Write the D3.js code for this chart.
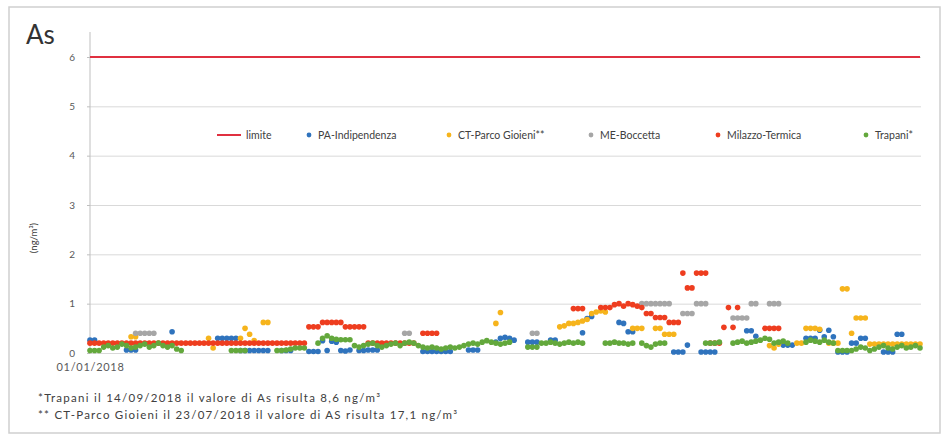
<!DOCTYPE html>
<html>
<head>
<meta charset="utf-8">
<script src="https://cdn.jsdelivr.net/npm/d3@7"></script>
<style>
  body { margin: 0; background: #fff; }
  svg { display: block; }
  text { font-family: Lato, "Open Sans", "DejaVu Sans", sans-serif; }
</style>
</head>
<body>
<svg id="chart" width="948" height="440"></svg>
<script>
// Arsenic concentrations (ng/m³), one sample every two days from 01/01/2018.
const _ = null;
const startDate = new Date(2018, 0, 1);
const endDate = new Date(2018, 11, 31);
const stepDays = 2;
const yTicks = [0, 1, 2, 3, 4, 5, 6];
const xTickLabels = ["01/01/2018"];
const limitValue = 6;
const limitName = "limite";
const seriesNames = ["PA-Indipendenza", "CT-Parco Gioieni**", "ME-Boccetta", "Milazzo-Termica", "Trapani*"];
const footnotes = [
  "*Trapani il 14/09/2018 il valore di As risulta 8,6 ng/m³",
  "** CT-Parco Gioieni il 23/07/2018 il valore di AS risulta 17,1 ng/m³"
];

const paIndipendenza = [
  0.26,0.26,_,_,_,_,_,_,0.06,0.06,
  0.06,_,_,_,_,_,_,_,0.43,_,
  _,_,_,_,_,_,_,_,0.3,0.3,
  0.3,0.3,0.3,0.05,0.05,0.05,0.05,0.05,0.05,0.05,
  _,_,0.05,0.05,0.05,_,_,_,0.03,0.03,
  0.03,0.25,0.05,0.24,0.22,0.05,0.04,0.06,_,0.05,
  0.05,0.06,0.06,0.06,_,_,_,_,_,_,
  _,_,_,0.03,0.03,0.03,0.03,0.03,0.03,0.03,
  _,_,_,0.06,0.06,0.06,_,_,_,0.22,
  0.3,0.32,0.3,0.26,_,_,0.22,0.22,0.22,_,
  _,0.26,0.26,_,_,_,_,_,0.41,0.7,
  0.74,_,_,_,_,_,0.62,0.6,0.43,0.43,
  _,_,_,_,_,_,_,_,0.02,0.02,
  0.02,0.16,_,_,0.02,0.02,0.02,0.02,_,_,
  _,_,_,_,0.45,0.45,0.34,_,_,_,
  _,_,0.16,0.16,0.16,_,_,0.3,0.3,0.3,
  0.46,0.33,0.46,0.33,0.02,0.02,0.02,0.2,0.2,0.3,
  0.3,_,_,_,0.02,0.02,0.02,0.38,0.38,_,
  _,_,_
];

const ctParcoGioieni = [
  _,_,_,_,_,_,_,_,_,0.33,
  0.33,_,_,_,_,_,_,_,_,_,
  _,_,_,_,_,_,0.3,0.1,_,_,
  _,_,_,0.3,0.5,0.38,0.25,_,0.62,0.62,
  _,_,_,_,_,_,_,_,_,_,
  _,_,_,_,_,_,_,_,_,_,
  _,_,_,_,_,_,_,_,_,_,
  _,_,_,_,_,_,_,_,_,_,
  _,_,_,_,_,_,_,_,_,0.6,
  0.82,_,_,_,_,_,_,_,_,_,
  _,17.1,_,0.53,0.55,0.6,0.6,0.62,0.65,0.68,
  0.8,0.83,0.85,0.83,_,_,_,_,_,0.5,
  0.5,0.5,_,_,0.5,0.5,0.38,0.38,0.38,_,
  _,_,_,_,_,_,_,_,_,_,
  _,_,_,_,_,_,_,_,_,0.15,
  0.1,0.18,_,_,_,0.2,0.2,0.5,0.5,0.5,
  0.48,_,0.2,0.2,0.2,1.3,1.3,0.4,0.71,0.71,
  0.71,0.18,0.18,0.18,0.18,0.18,0.18,0.18,0.18,0.18,
  0.18,0.18,0.18
];

const meBoccetta = [
  _,_,_,_,_,_,_,_,_,_,
  0.4,0.4,0.4,0.4,0.4,_,_,_,_,_,
  _,_,_,_,_,_,_,_,_,_,
  _,_,_,_,_,_,_,_,_,_,
  _,_,_,_,_,_,_,_,_,_,
  _,_,_,_,_,_,_,_,_,_,
  _,_,_,_,_,_,_,_,_,0.4,
  0.4,_,_,_,_,_,_,_,_,_,
  _,_,_,_,_,_,_,_,_,_,
  _,_,_,_,_,_,_,0.4,0.4,_,
  _,_,_,_,_,_,_,_,_,_,
  _,_,_,_,_,_,_,_,_,_,
  _,1.0,1.0,1.0,1.0,1.0,1.0,1.0,_,_,
  0.8,0.8,0.8,1.0,1.0,1.0,_,_,_,_,
  _,0.71,0.71,0.71,0.71,1.0,1.0,_,_,1.0,
  1.0,1.0,_,_,_,_,_,_,_,_,
  _,_,_,_,_,_,_,_,_,_,
  _,_,_,_,_,_,_,_,_,_,
  _,_,_
];

const milazzoTermica = [
  0.2,0.2,0.2,0.2,0.2,0.2,0.2,0.2,0.2,0.2,
  0.2,0.2,0.2,0.2,0.2,0.2,0.2,0.2,0.2,0.2,
  0.2,0.2,0.2,0.2,0.2,0.2,0.2,0.2,0.2,0.2,
  0.2,0.2,0.2,0.2,0.2,0.2,0.2,0.2,0.2,0.2,
  0.2,0.2,0.2,0.2,0.2,0.2,0.2,0.2,0.53,0.53,
  0.53,0.62,0.62,0.62,0.62,0.62,0.53,0.53,0.53,0.53,
  0.53,0.2,0.2,0.2,0.2,0.2,0.2,0.2,0.2,0.2,
  0.2,0.2,_,0.4,0.4,0.4,0.4,_,_,_,
  _,_,_,_,_,_,_,_,_,_,
  _,_,_,_,_,_,_,_,_,_,
  _,_,_,_,_,_,0.9,0.9,0.9,_,
  _,_,0.92,0.92,0.92,0.98,1.0,0.95,1.0,0.98,
  0.95,0.92,0.8,0.8,0.72,0.72,0.72,0.62,0.62,0.62,
  1.62,1.32,1.32,1.62,1.62,1.62,0.2,0.2,0.2,0.52,
  0.92,0.52,0.92,_,_,_,_,_,0.5,0.5,
  0.5,0.5,_,_,_,_,_,_,_,_,
  _,_,_,_,_,_,_,_,_,_,
  _,_,_,_,_,_,_,_,_,_,
  _,_,_
];

const trapani = [
  0.05,0.05,0.05,0.12,0.15,0.1,0.12,0.18,0.15,0.1,
  0.12,0.15,0.18,0.12,0.15,0.2,0.15,0.12,0.15,0.08,
  0.05,_,_,_,_,_,_,_,_,_,
  _,0.05,0.05,0.05,0.05,_,_,_,_,_,
  _,0.05,0.05,0.06,0.08,0.1,0.1,0.1,_,_,
  0.2,0.3,0.35,0.3,0.28,0.27,0.27,0.27,0.15,0.12,
  0.15,0.18,0.2,0.15,0.12,0.15,0.18,0.2,0.15,0.2,
  0.22,0.2,0.15,0.12,0.1,0.12,0.1,0.08,0.1,0.12,
  0.1,0.12,0.15,0.18,0.2,0.18,0.22,0.25,0.22,0.2,
  0.18,0.2,0.22,_,_,_,0.12,0.12,0.12,0.2,
  0.2,0.22,0.2,0.18,0.2,0.22,0.2,0.22,0.2,_,
  _,_,_,0.2,0.2,0.22,0.2,0.2,0.18,0.2,
  _,0.2,0.15,0.12,0.18,0.2,0.2,_,8.6,_,
  _,_,_,_,_,0.2,0.2,0.2,0.22,_,
  _,0.2,0.22,0.24,0.2,0.22,0.24,0.26,0.3,0.28,
  0.2,0.22,0.24,0.2,_,_,_,0.22,0.26,0.24,
  0.22,0.26,0.22,0.2,0.05,0.05,0.05,0.05,0.08,0.12,
  0.1,0.05,0.08,0.12,0.15,0.1,0.08,0.12,0.15,0.1,
  0.12,0.15,0.1
];

const seriesValues = [paIndipendenza, ctParcoGioieni, meBoccetta, milazzoTermica, trapani];
const seriesColors = ["#2f73bd", "#f6b41c", "#a6a6a6", "#ee3d1f", "#63a83c"];
const limitColor = "#e03040";

const svg = d3.select("#chart");
const plot = { left: 90, right: 921, top: 57, bottom: 353 };

// outer frame
svg.append("rect")
  .attr("x", 9).attr("y", 7).attr("width", 931).attr("height", 426)
  .attr("fill", "#fff").attr("stroke", "#cfcfcf").attr("stroke-width", 1.5);

const x = d3.scaleTime().domain([startDate, endDate]).range([plot.left, plot.right - 1]);
const y = d3.scaleLinear().domain([0, 6]).range([plot.bottom, plot.top]);

// horizontal gridlines
svg.append("g")
  .attr("transform", `translate(${plot.left},0)`)
  .call(d3.axisLeft(y).tickValues(yTicks).tickSize(-(plot.right - plot.left)).tickFormat(""))
  .call(g => g.select(".domain").remove())
  .call(g => g.selectAll(".tick line").attr("stroke", "#d9d9d9").attr("stroke-width", 1));

// y axis with labels
const yAxis = svg.append("g")
  .attr("transform", `translate(${plot.left},0)`)
  .call(d3.axisLeft(y).tickValues(yTicks).tickSize(3).tickPadding(12).tickFormat(d3.format("d")));
yAxis.select(".domain").attr("stroke", "#bfbfbf").attr("d", `M0,32V${plot.bottom}`);
yAxis.selectAll(".tick line").attr("stroke", "#bfbfbf");
yAxis.selectAll(".tick text").attr("fill", "#595959").style("font-size", "10px");

// x axis: baseline and first date label
const xAxis = svg.append("g")
  .attr("transform", `translate(0,${plot.bottom})`)
  .call(d3.axisBottom(x).tickValues([startDate]).tickSize(0).tickPadding(10)
    .tickFormat((d, i) => xTickLabels[i]));
xAxis.select(".domain").attr("stroke", "#d9d9d9");
xAxis.selectAll(".tick text").attr("fill", "#595959")
  .style("font-size", "11px").style("letter-spacing", "0.7px");

// limit line
svg.append("line")
  .attr("x1", x(startDate)).attr("x2", x(endDate))
  .attr("y1", y(limitValue)).attr("y2", y(limitValue))
  .attr("stroke", limitColor).attr("stroke-width", 2);

// clip markers to the plotting range
svg.append("clipPath").attr("id", "plotClip")
  .append("rect")
  .attr("x", plot.left - 4).attr("y", plot.top - 4)
  .attr("width", plot.right - plot.left + 8).attr("height", plot.bottom - plot.top + 8);

const marks = svg.append("g").attr("clip-path", "url(#plotClip)");
seriesValues.forEach((vals, s) => {
  const pts = vals
    .map((v, i) => ({ date: d3.timeDay.offset(startDate, i * stepDays), v }))
    .filter(d => d.v !== null);
  marks.append("g")
    .selectAll("circle")
    .data(pts)
    .join("circle")
    .attr("cx", d => x(d.date))
    .attr("cy", d => y(d.v))
    .attr("r", 2.8)
    .attr("fill", seriesColors[s]);
});

// title
svg.append("text")
  .attr("x", 26).attr("y", 44)
  .attr("fill", "#333").style("font-size", "26px")
  .text("As");

// y axis title
svg.append("text")
  .attr("transform", "translate(37,238) rotate(-90)")
  .attr("text-anchor", "middle")
  .attr("fill", "#404040").style("font-size", "9.5px")
  .text("(ng/m³)");

// legend
const legendY = 135;
const legend = svg.append("g").style("font-size", "10.5px").attr("fill", "#404040");
legend.append("line")
  .attr("x1", 217).attr("x2", 241).attr("y1", legendY).attr("y2", legendY)
  .attr("stroke", limitColor).attr("stroke-width", 2);
legend.append("text").attr("x", 246).attr("y", legendY + 3.5).text(limitName);
const legendDotX = [309, 449, 591, 718, 866];
seriesNames.forEach((name, s) => {
  legend.append("circle")
    .attr("cx", legendDotX[s]).attr("cy", legendY).attr("r", 2.4)
    .attr("fill", seriesColors[s]);
  legend.append("text")
    .attr("x", legendDotX[s] + 9).attr("y", legendY + 3.5)
    .text(name);
});

// footnotes
const footnoteWidths = [342, 419];
svg.append("g").style("font-size", "11.5px").attr("fill", "#404040")
  .selectAll("text")
  .data(footnotes)
  .join("text")
  .attr("x", 38)
  .attr("y", (d, i) => 402 + i * 17)
  .attr("textLength", (d, i) => footnoteWidths[i])
  .attr("lengthAdjust", "spacing")
  .text(d => d);
</script>
</body>
</html>
